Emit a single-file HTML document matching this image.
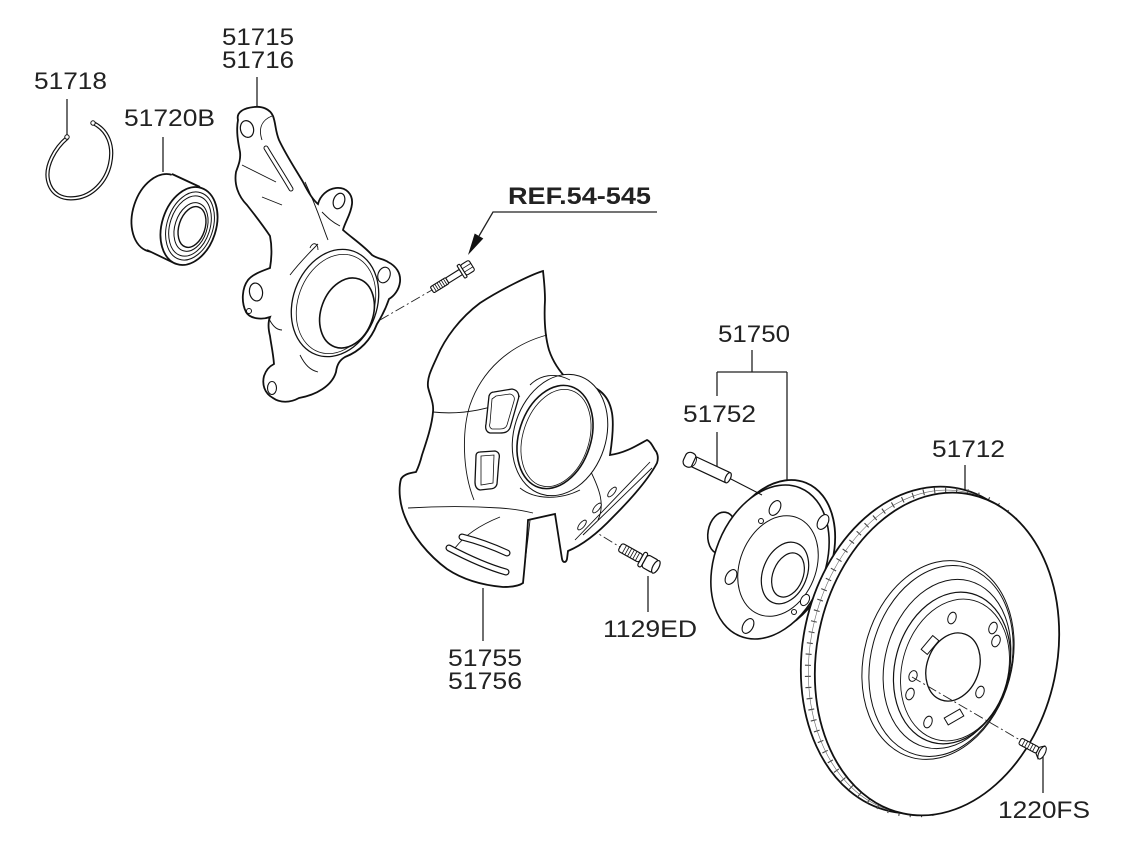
<!DOCTYPE html>
<html><head><meta charset="utf-8">
<style>
html,body{margin:0;padding:0;background:#fff;}
svg{display:block;}
text{font-family:"Liberation Sans",Arial,sans-serif;font-size:24px;fill:#222;}
</style></head><body>
<svg width="1125" height="848" viewBox="0 0 1125 848" xmlns="http://www.w3.org/2000/svg">
<rect width="1125" height="848" fill="#fff"/>

<!-- Labels -->
<text x="222" y="45" textLength="72" lengthAdjust="spacingAndGlyphs">51715</text>
<text x="222" y="68" textLength="72" lengthAdjust="spacingAndGlyphs">51716</text>
<text x="34" y="89" textLength="73" lengthAdjust="spacingAndGlyphs">51718</text>
<text x="124" y="126" textLength="91" lengthAdjust="spacingAndGlyphs">51720B</text>
<text x="508" y="204" style="font-weight:bold" textLength="143" lengthAdjust="spacingAndGlyphs">REF.54-545</text>
<text x="718" y="342" textLength="72" lengthAdjust="spacingAndGlyphs">51750</text>
<text x="683" y="422" textLength="73" lengthAdjust="spacingAndGlyphs">51752</text>
<text x="932" y="457" textLength="73" lengthAdjust="spacingAndGlyphs">51712</text>
<text x="448" y="666" textLength="74" lengthAdjust="spacingAndGlyphs">51755</text>
<text x="448" y="689" textLength="74" lengthAdjust="spacingAndGlyphs">51756</text>
<text x="603" y="637" textLength="94" lengthAdjust="spacingAndGlyphs">1129ED</text>
<text x="998" y="818" textLength="92" lengthAdjust="spacingAndGlyphs">1220FS</text>

<!-- Leader lines -->
<g fill="none" stroke="#222" stroke-width="1.3">
<path d="M257,77V107 M67,99V137 M163,137V172 M752,350V372 M717,372H787 M717,372V396 M787,372V486 M717,432V474 M965,465V494 M483,588V641 M648,576V612 M1043,757V793"/>
<path d="M657,212H493L479,236"/>
</g>
<polygon points="468,255 483.3,238.5 474.7,233.5" fill="#111"/>

<!-- dash-dot center lines -->
<g fill="none" stroke="#222" stroke-width="0.9" stroke-dasharray="10 3 2 3">
<path d="M380,320 L432,290"/>
<path d="M527,490 L620,547"/>
</g>

<!-- Snap ring 51718 -->
<path d="M67,138 C55,148 45,166 48,180 C51,194 62,200 76,198 C92,196 106,182 110,164 C114,146 108,130 93,123" fill="none" stroke="#111" stroke-width="4.2" stroke-linecap="round"/>
<path d="M67,138 C55,148 45,166 48,180 C51,194 62,200 76,198 C92,196 106,182 110,164 C114,146 108,130 93,123" fill="none" stroke="#fff" stroke-width="1.8" stroke-linecap="round"/>
<circle cx="67" cy="137" r="2.2" fill="#fff" stroke="#111" stroke-width="1"/>
<circle cx="93" cy="123" r="2.2" fill="#fff" stroke="#111" stroke-width="1"/>

<!-- Bearing 51720B -->
<g stroke="#111" fill="#fff">
<ellipse cx="160" cy="213" rx="27" ry="40" transform="rotate(18 160 213)" stroke-width="1.8"/>
<polygon points="172,174 200,187 176,264 147,250" stroke="none"/>
<path d="M172,174 L200,187 M147,250 L176,264" stroke-width="1.8" fill="none"/>
<ellipse cx="189" cy="226" rx="27" ry="40" transform="rotate(18 189 226)" stroke-width="1.8"/>
<ellipse cx="190" cy="226" rx="23" ry="35" transform="rotate(18 190 226)" stroke-width="1"/>
<ellipse cx="190" cy="226" rx="20" ry="31" transform="rotate(18 190 226)" stroke-width="1"/>
<ellipse cx="191" cy="227" rx="16" ry="25" transform="rotate(18 191 227)" stroke-width="1"/>
<ellipse cx="192" cy="227" rx="13" ry="21" transform="rotate(18 192 227)" stroke-width="1.4"/>
</g>

<!-- Knuckle 51715/51716 -->
<g stroke="#111" fill="#fff">
<path stroke-width="1.8" d="M238,120 C236,112 244,108 254,107 C262,106 270,109 273,116 C276,124 275,130 279,140 C286,155 296,170 303,182 C308,192 313,200 318,204 C320,196 327,189 336,188 C346,187 353,194 352,204 C351,214 345,222 343,230 C352,238 364,246 372,255 C378,259 384,259 388,262 C396,266 401,273 400,282 C399,290 394,296 389,299 C386,308 382,316 377,324 C370,342 358,352 345,357 C340,360 337,364 336,372 C332,386 316,395 299,398 C290,403 280,403 273,398 C264,393 262,384 264,376 C266,370 270,366 274,364 C273,352 271,344 270,336 C268,328 268,322 270,317 C262,320 250,319 246,312 C241,302 242,288 248,280 C253,274 262,271 270,268 C272,256 272,246 270,236 C262,224 254,214 247,205 C238,196 234,184 236,172 C238,166 241,160 240,152 C238,142 236,131 238,120 Z"/>
<ellipse cx="247" cy="129" rx="6.5" ry="8.5" transform="rotate(-15 247 129)" stroke-width="1.2"/>
<path d="M266,148 C275,163 284,177 291,189" stroke-width="5" stroke-linecap="round" fill="none"/>
<path d="M266,148 C275,163 284,177 291,189" stroke="#fff" stroke-width="3" stroke-linecap="round" fill="none"/>
<path d="M242,165 L276,182 M262,197 L282,205 M272,116 C262,120 258,128 262,140 M305,182 C318,210 322,225 328,240" stroke-width="0.9" fill="none"/>
<ellipse cx="339" cy="201" rx="5.5" ry="8" transform="rotate(20 339 201)" stroke-width="1.2"/>
<path d="M322,212 C328,218 332,222 340,226" stroke-width="0.9" fill="none"/>
<ellipse cx="256" cy="292" rx="6.5" ry="9" transform="rotate(-10 256 292)" stroke-width="1.2"/>
<circle cx="249" cy="311" r="2.5" stroke-width="1"/>
<ellipse cx="272" cy="388" rx="4.5" ry="6.5" stroke-width="1.1"/>
<path d="M290,275 C300,262 310,252 318,244 M310,248 C312,242 318,242 318,250 M300,355 C305,365 310,370 318,372 M268,317 C272,325 276,330 282,330" stroke-width="0.9" fill="none"/>
<ellipse cx="384" cy="275" rx="6" ry="8" transform="rotate(20 384 275)" stroke-width="1.1"/>
<ellipse cx="335" cy="303" rx="42" ry="55" transform="rotate(20 335 303)" stroke-width="1.3"/>
<ellipse cx="336" cy="304" rx="38" ry="51" transform="rotate(20 336 304)" stroke-width="0.8" fill="none"/>
<ellipse cx="347" cy="313" rx="26" ry="36" transform="rotate(20 347 313)" stroke-width="1.6"/>
</g>

<!-- REF bolt -->
<g transform="translate(432,290) rotate(-32)" stroke="#111" fill="#fff" stroke-width="1.1">
<rect x="0" y="-3.5" width="18" height="7" rx="1.5"/>
<path d="M3,-3.5v7 M5.5,-3.5v7 M8,-3.5v7 M10.5,-3.5v7 M13,-3.5v7 M15.5,-3.5v7" stroke-width="0.8"/>
<rect x="18" y="-3" width="16" height="6"/>
<rect x="34" y="-7.5" width="3" height="15" rx="1"/>
<rect x="37" y="-6" width="10" height="12" rx="2"/>
<path d="M37,-2H47 M37,2H47" stroke-width="0.8"/>
</g>

<!-- Dust shield 51755/51756 -->
<g stroke="#111" fill="#fff">
<path stroke-width="1.8" d="M543,271 C530,275 500,290 480,303 C460,318 445,338 437,357 C431,370 427,378 428,387 C430,396 434,403 433,412 C432,425 427,440 422,455 C420,463 418,468 416,472 C410,473 404,474 401,479 C398,490 400,505 405,517 C412,535 428,555 447,569 C462,579 480,585 503,587 C512,587 519,586 523,583 C525,563 527,540 528,520 L555,514 L562,559 C563,563 566,563 567,559 L568,551 C580,546 595,536 613,517 C630,500 648,480 657,463 C659,457 657,452 655,450 C652,445 650,441 647,440 C636,446 625,453 610,455 C612,442 614,425 612,413 C610,402 606,396 600,391 C592,385 580,381 568,380 C560,372 553,362 549,350 C545,336 544,318 545,300 C545,290 544,280 543,271 Z"/>
<path d="M547,335 C510,345 482,370 470,405 C462,430 462,470 474,500 M433,412 C460,415 490,410 520,396 M408,508 C440,506 470,506 500,508 C515,509 525,511 533,513 M500,517 C480,525 465,535 455,548 M523,583 C525,560 528,540 530,520 M590,470 C600,490 605,505 598,520 M575,540 L650,462 M583,535 L652,468" stroke-width="0.9" fill="none"/>
<path d="M494,392 L512,389 C518,390 520,395 518,400 L510,428 C508,432 505,433 500,433 L490,433 C486,432 485,428 486,424 L489,396 C490,393 492,392 494,392 Z" stroke-width="1.3"/>
<path d="M496,396 L510,394 C514,395 515,398 514,401 L507,425 C506,428 503,429 500,429 L492,429 C490,428 489,426 490,423 L492,399 Z" stroke-width="0.8" fill="none"/>
<path d="M480,452 L495,451 C499,452 500,455 499,459 L497,484 C496,488 493,489 489,489 L480,490 C476,489 475,486 475,482 L476,456 C476,453 478,452 480,452 Z" stroke-width="1.3"/>
<path d="M481,456 L494,455 L493,483 L481,485 Z" stroke-width="0.8" fill="none"/>
<ellipse cx="560" cy="435" rx="46" ry="62" transform="rotate(18 560 435)" stroke-width="1"/>
<path d="M520,488 C535,500 560,500 580,490 M530,385 C540,375 555,372 570,380" stroke-width="0.9" fill="none"/>
<ellipse cx="555" cy="437" rx="36" ry="53" transform="rotate(18 555 437)" stroke-width="1.6"/>
<ellipse cx="556" cy="438" rx="33" ry="50" transform="rotate(18 556 438)" stroke-width="0.8" fill="none"/>
<path d="M462,537 C478,541 494,547 507,553" stroke-width="7" stroke-linecap="round" fill="none"/>
<path d="M462,537 C478,541 494,547 507,553" stroke="#fff" stroke-width="4.6" stroke-linecap="round" fill="none"/>
<path d="M449,548 C468,558 488,567 506,572" stroke-width="7" stroke-linecap="round" fill="none"/>
<path d="M449,548 C468,558 488,567 506,572" stroke="#fff" stroke-width="4.6" stroke-linecap="round" fill="none"/>
<ellipse cx="597" cy="508" rx="2.5" ry="6" transform="rotate(40 597 508)" stroke-width="0.9"/>
<ellipse cx="612" cy="492" rx="2.5" ry="6" transform="rotate(40 612 492)" stroke-width="0.9"/>
<ellipse cx="582" cy="525" rx="2.5" ry="6" transform="rotate(40 582 525)" stroke-width="0.9"/>
</g>

<!-- Bolt 1129ED -->
<g transform="translate(620,547) rotate(29)" stroke="#111" fill="#fff" stroke-width="1.2">
<rect x="0" y="-4.5" width="24" height="9" rx="2.5"/>
<path d="M5,-4.5v9 M8,-4.5v9 M11,-4.5v9 M14,-4.5v9 M17,-4.5v9 M20,-4.5v9" stroke-width="0.8"/>
<rect x="24" y="-8" width="4" height="16" rx="2"/>
<rect x="28" y="-7" width="13" height="14" rx="3"/>
<ellipse cx="41" cy="0" rx="3" ry="7"/>
</g>

<!-- Hub 51750 -->
<g stroke="#111" fill="#fff">
<ellipse cx="722" cy="533" rx="14" ry="21" transform="rotate(10 722 533)" stroke-width="1.6"/>
<ellipse cx="776" cy="557" rx="55" ry="80" transform="rotate(22 776 557)" stroke-width="1.8"/>
<ellipse cx="770" cy="562" rx="55" ry="80" transform="rotate(22 770 562)" stroke-width="1.6"/>
<ellipse cx="778" cy="566" rx="38" ry="52" transform="rotate(22 778 566)" stroke-width="1"/>
<ellipse cx="785" cy="573" rx="22" ry="32" transform="rotate(22 785 573)" stroke-width="1.2"/>
<ellipse cx="788" cy="575" rx="15" ry="23" transform="rotate(22 788 575)" stroke-width="1.2"/>
<ellipse cx="775" cy="508" rx="5" ry="8" transform="rotate(30 775 508)" stroke-width="1.1"/>
<ellipse cx="823" cy="522" rx="5" ry="8" transform="rotate(30 823 522)" stroke-width="1.1"/>
<ellipse cx="731" cy="577" rx="5" ry="8" transform="rotate(30 731 577)" stroke-width="1.1"/>
<ellipse cx="748" cy="626" rx="5" ry="8" transform="rotate(30 748 626)" stroke-width="1.1"/>
<ellipse cx="805" cy="600" rx="4" ry="6" transform="rotate(30 805 600)" stroke-width="1"/>
<circle cx="761" cy="521" r="2.5" stroke-width="1"/>
<circle cx="794" cy="612" r="2.5" stroke-width="1"/>
</g>
<path d="M727,477 L762,495" stroke="#111" stroke-width="1" fill="none"/>

<!-- Stud 51752 -->
<g transform="translate(690,460) rotate(25)" stroke="#111" fill="#fff" stroke-width="1.2">
<rect x="-6" y="-7.5" width="11" height="15" rx="5"/>
<rect x="4" y="-5.5" width="38" height="11" rx="1"/>
<ellipse cx="42" cy="0" rx="2.5" ry="5.5"/>
<path d="M4,-5.5 C7,-3 7,3 4,5.5" fill="none" stroke-width="0.9"/>
</g>

<!-- Disc 51712 -->
<g stroke="#111" fill="#fff">
<ellipse cx="925" cy="650" rx="122" ry="165" transform="rotate(12 925 650)" stroke-width="1.8"/>
<ellipse cx="931" cy="652" rx="121" ry="164" transform="rotate(12 931 652)" stroke="#444" stroke-width="6" stroke-dasharray="1.1 10" fill="none"/>
<ellipse cx="931" cy="652" rx="120.5" ry="163.5" transform="rotate(12 931 652)" stroke="#666" stroke-width="0.6" fill="none"/>
<ellipse cx="937" cy="654" rx="120" ry="163" transform="rotate(12 937 654)" stroke-width="1.8"/>
<ellipse cx="938" cy="660" rx="74" ry="101" transform="rotate(15 938 660)" stroke-width="1"/>
<ellipse cx="941" cy="661" rx="70" ry="97" transform="rotate(15 941 661)" stroke-width="1"/>
<ellipse cx="947" cy="664" rx="62" ry="86" transform="rotate(15 947 664)" stroke-width="1"/>
<ellipse cx="952" cy="668" rx="57" ry="77" transform="rotate(15 952 668)" stroke-width="1.2"/>
<ellipse cx="955" cy="670" rx="53" ry="72" transform="rotate(15 955 670)" stroke-width="0.9"/>
<ellipse cx="953" cy="667" rx="26" ry="35" transform="rotate(20 953 667)" stroke-width="1.3"/>
<ellipse cx="952" cy="618" rx="4" ry="6" transform="rotate(20 952 618)" stroke-width="1"/>
<ellipse cx="993" cy="628" rx="4" ry="6" transform="rotate(20 993 628)" stroke-width="1"/>
<ellipse cx="996" cy="641" rx="4" ry="6" transform="rotate(20 996 641)" stroke-width="1"/>
<ellipse cx="913" cy="676" rx="4" ry="5.5" transform="rotate(20 913 676)" stroke-width="1"/>
<ellipse cx="910" cy="694" rx="4" ry="6" transform="rotate(20 910 694)" stroke-width="1"/>
<ellipse cx="980" cy="692" rx="4" ry="6" transform="rotate(20 980 692)" stroke-width="1"/>
<ellipse cx="928" cy="722" rx="4" ry="6" transform="rotate(20 928 722)" stroke-width="1"/>
<rect x="-4" y="-9" width="8" height="18" transform="translate(930,645) rotate(40)" stroke-width="1"/>
<rect x="-4" y="-9" width="8" height="18" transform="translate(954,717) rotate(60)" stroke-width="1"/>
</g>
<path d="M912,677 L1020,740" stroke="#222" stroke-width="0.9" stroke-dasharray="10 3 2 3" fill="none"/>

<!-- Screw 1220FS -->
<g transform="translate(1020,741) rotate(28)" stroke="#111" fill="#fff" stroke-width="1.1">
<rect x="0" y="-3.5" width="20" height="7" rx="2"/>
<path d="M4,-3.5v7 M7,-3.5v7 M10,-3.5v7 M13,-3.5v7 M16,-3.5v7" stroke-width="0.8"/>
<path d="M20,-3.5 L24,-7 L24,7 L20,3.5 Z"/>
<ellipse cx="25" cy="0" rx="3" ry="7"/>
</g>
</svg>
</body></html>
